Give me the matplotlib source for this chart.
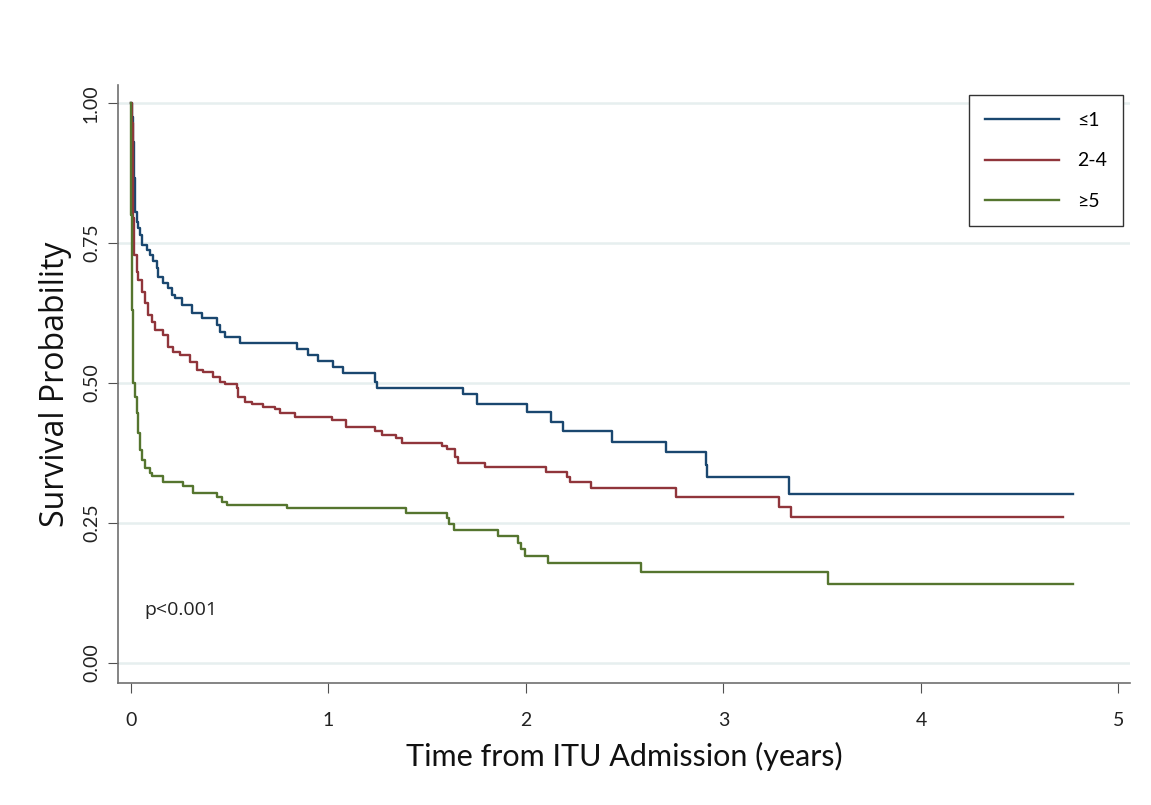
import matplotlib
matplotlib.use('Agg')
import matplotlib.pyplot as plt

# Kaplan-Meier step data (time in years, survival probability)
t_low = [0, 0.003, 0.01, 0.015, 0.02, 0.03, 0.035, 0.046, 0.056, 0.081,
         0.096, 0.111, 0.132, 0.137, 0.162, 0.187, 0.208, 0.223, 0.258, 0.309,
         0.36, 0.436, 0.45, 0.476, 0.552, 0.84, 0.897, 0.948, 1.025, 1.075,
         1.236, 1.245, 1.68, 1.75, 2.006, 2.128, 2.185, 2.437, 2.71, 2.91,
         2.917, 3.33, 4.77]
s_low = [1.0, 0.975, 0.93, 0.866, 0.805, 0.787, 0.777, 0.764, 0.746, 0.7375,
         0.729, 0.718, 0.705, 0.689, 0.679, 0.67, 0.657, 0.652, 0.639, 0.625,
         0.616, 0.604, 0.591, 0.582, 0.571, 0.561, 0.55, 0.539, 0.529, 0.518,
         0.502, 0.491, 0.48, 0.4625, 0.448, 0.43, 0.414, 0.395, 0.377, 0.354,
         0.332, 0.302, 0.302]

t_mid = [0, 0.003, 0.01, 0.015, 0.03, 0.035, 0.056, 0.071, 0.086, 0.106,
         0.122, 0.162, 0.187, 0.213, 0.248, 0.299, 0.334, 0.365, 0.415, 0.45,
         0.476, 0.537, 0.542, 0.578, 0.613, 0.669, 0.73, 0.755, 0.83, 1.02,
         1.09, 1.236, 1.27, 1.34, 1.37, 1.575, 1.60, 1.64, 1.656, 1.79,
         2.10, 2.21, 2.225, 2.33, 2.76, 3.28, 3.34, 4.72]
s_mid = [1.0, 0.964, 0.795, 0.729, 0.698, 0.684, 0.6625, 0.643, 0.621, 0.609,
         0.595, 0.586, 0.564, 0.555, 0.55, 0.5375, 0.523, 0.52, 0.511, 0.502,
         0.498, 0.491, 0.475, 0.466, 0.4625, 0.457, 0.4535, 0.446, 0.439, 0.434,
         0.421, 0.414, 0.407, 0.402, 0.393, 0.3875, 0.382, 0.368, 0.357, 0.35,
         0.341, 0.332, 0.323, 0.3125, 0.296, 0.279, 0.261, 0.261]

t_high = [0, 0.002, 0.005, 0.01, 0.02, 0.03, 0.035, 0.046, 0.056, 0.071,
          0.096, 0.106, 0.162, 0.263, 0.314, 0.436, 0.461, 0.487, 0.79, 1.39,
          1.60, 1.61, 1.636, 1.86, 1.96, 1.975, 1.995, 2.11, 2.58, 3.53, 4.77]
s_high = [1.0, 0.8, 0.63, 0.5, 0.475, 0.446, 0.41, 0.38, 0.3625, 0.348,
          0.34, 0.334, 0.323, 0.316, 0.3035, 0.296, 0.2875, 0.282, 0.277, 0.268,
          0.259, 0.248, 0.2375, 0.227, 0.214, 0.2035, 0.191, 0.1785, 0.1625, 0.141, 0.141]

labels = ['\u22641', '2-4', '\u22655']
colors = ['#1a476f', '#90353b', '#55752f']
yticks = [0, 0.25, 0.5, 0.75, 1.0]
ytick_labels = ['0.00', '0.25', '0.50', '0.75', '1.00']
xticks = [0, 1, 2, 3, 4, 5]

FONT = ['Lato', 'DejaVu Sans']

fig = plt.figure(figsize=(11.51, 8.05), dpi=100)
ax = fig.add_axes([0.1025, 0.1516, 0.8795, 0.7424])

for y in yticks:
    ax.axhline(y, color='#e6efef', lw=1.8, zorder=0)

curves = [(t_low, s_low), (t_mid, s_mid), (t_high, s_high)]
for (t, s), lab, c in zip(curves, labels, colors):
    ax.step(t, s, where='post', color=c, lw=1.7, label=lab)

ax.set_xlim(-0.066, 5.06)
ax.set_ylim(-0.036, 1.032)
ax.set_xticks(xticks)
ax.set_yticks(yticks)
ax.set_yticklabels(ytick_labels, rotation=90, va='center')

for side in ['top', 'right']:
    ax.spines[side].set_visible(False)
for side in ['left', 'bottom']:
    ax.spines[side].set_color('#707070')
    ax.spines[side].set_linewidth(1.2)
ax.tick_params(axis='both', direction='out', length=7, color='#505050',
               labelsize=14, labelcolor='#222222', pad=6)
ax.tick_params(axis='x', pad=14)
for lbl in ax.get_xticklabels() + ax.get_yticklabels():
    lbl.set_family(FONT)

ax.set_xlabel('Time from ITU Admission (years)', fontsize=22, labelpad=9,
              family=FONT, color='#111111')
ax.set_ylabel('Survival Probability', fontsize=23, labelpad=8,
              family=['Open Sans', 'DejaVu Sans'], color='#111111')

ax.text(0.07, 0.095, 'p<0.001', fontsize=14, family=['Open Sans', 'DejaVu Sans'],
        color='#222222', va='center')

leg = ax.legend(loc='upper right', bbox_to_anchor=(0.993, 0.983), borderaxespad=0,
                fancybox=False, edgecolor='#333333', framealpha=1,
                prop={'family': FONT, 'size': 14}, handlelength=3.8,
                labelspacing=1.2, borderpad=0.85, handletextpad=0.9)
leg.get_frame().set_linewidth(1.0)

fig.savefig('out.png', dpi=100, facecolor='white')
